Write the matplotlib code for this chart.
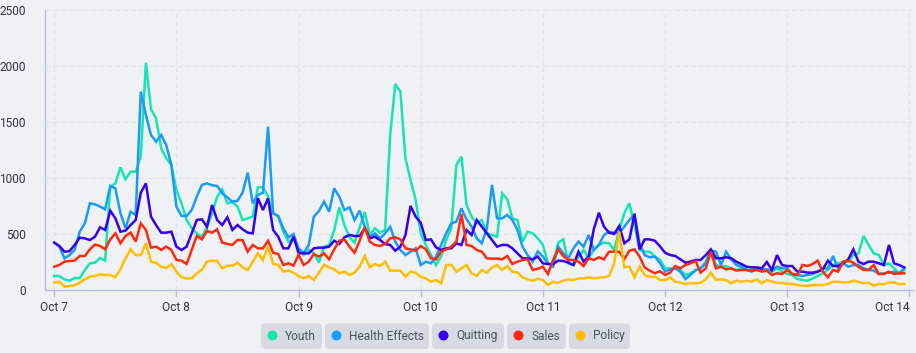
import numpy as np
import matplotlib
matplotlib.use("Agg")
import matplotlib.pyplot as plt
from matplotlib.patches import FancyBboxPatch, Circle
from matplotlib.transforms import IdentityTransform

plt.rcParams['font.family'] = ['Roboto', 'DejaVu Sans']

# hourly mentions, Oct 7 00:00 -> Oct 13 23:00
day_labels = ["Oct 7", "Oct 8", "Oct 9", "Oct 10", "Oct 11", "Oct 12", "Oct 13", "Oct 14"]

youth = [125, 125, 95, 83, 107, 107, 178, 238, 244, 286, 262, 923, 952, 1095, 988, 1057, 1057, 1196, 2030, 1613, 1533, 1265, 1176, 1116,
         893, 774, 625, 551, 506, 476, 560, 680, 833, 899, 774, 786, 744, 625, 640, 655, 917, 917, 833, 685, 655, 521, 432, 461,
         357, 312, 357, 327, 244, 387, 402, 536, 738, 580, 470, 423, 560, 696, 491, 551, 512, 536, 1384, 1839, 1771, 1176, 982, 804,
         506, 402, 312, 223, 298, 446, 551, 1116, 1190, 759, 655, 595, 625, 506, 491, 476, 863, 812, 640, 625, 431, 521, 506,
         461, 402, 238, 223, 423, 452, 238, 223, 298, 357, 283, 357, 402, 423, 417, 357, 536, 685, 774, 580, 357, 342, 342, 298, 270,
         193, 193, 193, 179, 134, 149, 173, 193, 253, 357, 223, 208, 213, 193, 179, 193, 179, 179, 184, 184, 179, 164, 193,
         164, 143, 134, 98, 89, 83, 104, 125, 149, 179, 223, 238, 253, 253, 312, 327, 482, 402, 327, 312, 223, 238, 193, 149, 179]

health = [423, 387, 283, 312, 357, 521, 595, 774, 765, 744, 720, 929, 908, 685, 551, 699, 670, 1771, 1563, 1384, 1324, 1384, 1295, 1116,
          744, 661, 661, 714, 833, 938, 952, 935, 929, 863, 827, 789, 797, 869, 1048, 774, 848, 869, 1458, 685, 661, 551, 470, 500,
          372, 330, 402, 655, 705, 789, 699, 908, 833, 714, 738, 625, 708, 565, 470, 506, 461, 506, 565, 432, 357, 312, 342, 372,
          223, 253, 238, 298, 402, 506, 595, 610, 729, 631, 565, 461, 417, 551, 938, 640, 640, 670, 625, 536, 387, 312, 253,
          345, 298, 238, 208, 387, 327, 283, 372, 432, 387, 491, 357, 402, 491, 521, 512, 506, 565, 625, 670, 417, 312, 292, 298, 240,
          164, 184, 193, 164, 98, 134, 179, 193, 238, 351, 342, 223, 342, 274, 223, 208, 179, 164, 184, 179, 184, 173, 208,
          193, 193, 143, 134, 125, 134, 143, 164, 193, 193, 304, 193, 238, 208, 223, 223, 193, 179, 173, 143, 149, 155, 164, 149, 193]

quitting = [423, 393, 342, 347, 402, 467, 461, 446, 476, 560, 536, 708, 640, 521, 530, 580, 625, 869, 952, 655, 580, 512, 512, 521,
            387, 357, 387, 506, 625, 631, 565, 759, 625, 580, 649, 536, 580, 542, 512, 506, 819, 714, 819, 536, 476, 372, 372, 476,
            330, 327, 327, 372, 378, 378, 387, 440, 411, 470, 491, 482, 482, 551, 461, 476, 446, 411, 402, 351, 387, 491, 750, 655, 600,
            446, 452, 381, 357, 372, 372, 417, 402, 536, 491, 625, 566, 506, 446, 387, 402, 402, 372, 327, 283, 283, 274,
            298, 238, 232, 232, 262, 259, 244, 223, 342, 253, 298, 542, 690, 565, 512, 500, 571, 417, 452, 679, 363, 452, 452, 440, 390,
            333, 312, 304, 274, 244, 253, 268, 268, 312, 363, 283, 283, 292, 283, 253, 232, 208, 202, 202, 193, 250, 179, 312,
            223, 214, 214, 164, 164, 155, 155, 164, 184, 262, 214, 214, 238, 274, 363, 253, 232, 253, 253, 238, 223, 402, 238, 223, 202]

sales = [208, 223, 253, 259, 262, 304, 304, 363, 405, 393, 363, 452, 506, 417, 482, 512, 432, 595, 536, 378, 387, 357, 387, 357,
         268, 262, 232, 357, 482, 452, 527, 512, 542, 423, 411, 402, 446, 446, 342, 402, 372, 372, 440, 333, 321, 223, 238, 217, 315,
         223, 253, 321, 298, 327, 274, 363, 440, 452, 387, 333, 440, 560, 432, 402, 393, 411, 461, 470, 452, 372, 363, 351, 393,
         363, 283, 274, 342, 363, 387, 432, 679, 402, 393, 357, 342, 283, 280, 280, 274, 304, 232, 253, 268, 274, 179,
         189, 208, 143, 268, 363, 304, 268, 268, 253, 214, 283, 268, 292, 274, 342, 342, 342, 274, 351, 363, 298, 202, 173, 149, 168,
         134, 155, 214, 193, 223, 238, 259, 155, 193, 342, 193, 208, 184, 193, 173, 179, 179, 173, 179, 164, 173, 134, 149,
         143, 179, 143, 134, 223, 214, 232, 262, 164, 113, 179, 164, 253, 262, 244, 208, 179, 179, 223, 143, 143, 164, 143, 149, 149]

policy = [65, 74, 30, 36, 42, 65, 95, 119, 125, 140, 134, 134, 113, 185, 283, 363, 312, 312, 417, 253, 244, 208, 196, 232,
          164, 113, 104, 104, 149, 179, 253, 262, 259, 193, 217, 217, 244, 202, 179, 253, 327, 268, 393, 232, 223, 164, 173, 155, 124,
          104, 125, 89, 155, 223, 202, 185, 149, 164, 134, 155, 208, 304, 202, 232, 214, 253, 173, 173, 173, 119, 164, 155, 116,
          104, 74, 89, 60, 223, 223, 164, 193, 223, 149, 125, 179, 155, 202, 223, 179, 214, 164, 155, 113, 95, 83,
          100, 89, 45, 74, 65, 83, 95, 89, 104, 104, 113, 104, 110, 113, 125, 238, 521, 202, 208, 113, 208, 134, 119, 119, 89,
          89, 113, 74, 65, 54, 60, 60, 65, 95, 155, 89, 95, 89, 60, 83, 74, 83, 74, 95, 60, 89, 74, 65,
          60, 54, 54, 45, 39, 36, 45, 45, 45, 54, 74, 74, 68, 68, 83, 71, 60, 65, 39, 54, 51, 68, 65, 54, 54]

names = ["Youth", "Health Effects", "Quitting", "Sales", "Policy"]
colors = ["#14e6b2", "#1a9bf5", "#3600ee", "#ff2a0e", "#ffbe00"]
data = [youth, health, quitting, sales, policy]

bg = "#eff1f4"
axis_col = "#b4c0dc"
grid_col = "#dde2ec"
text_col = "#2e3340"

W, H = 916, 353
fig = plt.figure(figsize=(W / 100, H / 100), dpi=100)
fig.patch.set_facecolor(bg)
ax = fig.add_axes([45 / W, 63 / H, 868 / W, 280 / H])
ax.set_facecolor(bg)

for name, vals, col in zip(names, data, colors):
    x = np.arange(len(vals)) / 24.0
    ax.plot(x, vals, color=col, lw=1.8, solid_joinstyle='miter')

ax.set_ylim(0, 2500)
ax.set_xlim(-0.076, 7.03)
ax.set_yticks(range(0, 2501, 500))
ax.set_xticks(range(len(day_labels)))
ax.set_xticklabels(day_labels)
# last label is pushed left so it stays inside the figure
ax.get_xticklabels()[-1].set_horizontalalignment('right')

ax.grid(True, color=grid_col, linestyle=(0, (4, 3)), lw=0.8)
ax.set_axisbelow(True)
for s in ["top", "right"]:
    ax.spines[s].set_visible(False)
for s in ["left", "bottom"]:
    ax.spines[s].set_color(axis_col)
    ax.spines[s].set_linewidth(1.0)

ax.tick_params(axis='y', length=0, pad=14, labelsize=8.6, labelcolor=text_col)
ax.tick_params(axis='x', length=5, width=1, color=axis_col, pad=3, labelsize=8.6, labelcolor=text_col)

# legend pills along the bottom
ident = IdentityTransform()
pills = [(261, 322), (325, 429), (432, 504), (507, 566), (569, 630)]
for name, col, (x0, x1) in zip(names, colors, pills):
    fig.add_artist(FancyBboxPatch((x0, H - 349), x1 - x0, 25.5,
                                  boxstyle="round,pad=0,rounding_size=4",
                                  fc="#d6dbe3", ec="none", transform=ident))
    fig.add_artist(Circle((x0 + 11.5, H - 335.5), 5, fc=col, ec="none", transform=ident))
    fig.text(x0 + 24, H - 336, name, transform=ident, va='center', ha='left',
             fontsize=8.6, color="#4a4f62")

fig.savefig("out.png", dpi=100, facecolor=bg)
